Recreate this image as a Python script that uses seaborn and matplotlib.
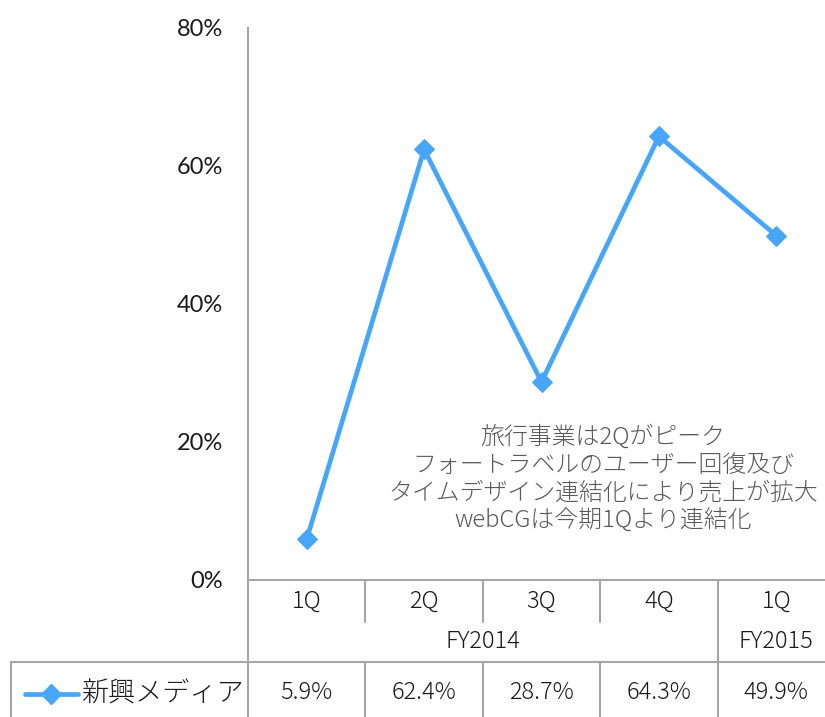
from matplotlib import pyplot as plt
from matplotlib.transforms import blended_transform_factory
import seaborn as sns
import pandas as pd

# Data
quarters = ['1Q', '2Q', '3Q', '4Q', '1Q']
fiscal_years = ['FY2014', 'FY2014', 'FY2014', 'FY2014', 'FY2015']
share = [5.9, 62.4, 28.7, 64.3, 49.9]
series_name = '新興メディア'
note = ('旅行事業は2Qがピーク\nフォートラベルのユーザー回復及び\n'
        'タイムデザイン連結化により売上が拡大\nwebCGは今期1Qより連結化')

df = pd.DataFrame({'pos': range(len(share)), 'share': share})

sns.set_style('white')
plt.rcParams['font.family'] = ['Noto Sans CJK JP', 'DejaVu Sans']

line_color = '#47A6F9'
grid_color = '#A6A6A6'

fig = plt.figure(figsize=(8.25, 7.17), dpi=100)
# axes box in pixels: left 248, bottom 580, width 587, height 552
ax = fig.add_axes([248 / 825, (717 - 580) / 717, 587 / 825, 552 / 717])

sns.lineplot(data=df, x='pos', y='share', ax=ax, color=line_color, linewidth=3.4,
             marker='D', markersize=10, markeredgecolor=line_color, clip_on=False)

ax.set_xlim(-0.5, len(share) - 0.5)
ax.set_ylim(0, 80)
ax.set_yticks(range(0, 81, 20))
ax.set_yticklabels([f'{v}%' for v in range(0, 81, 20)], fontsize=17,
                   family=['Lato', 'DejaVu Sans'], fontweight='normal', color='#1a1a1a')
ax.tick_params(axis='y', length=0, pad=18)
ax.set_xticks([])
ax.set_xlabel('')
ax.set_ylabel('')
for s in ['top', 'right']:
    ax.spines[s].set_visible(False)
ax.spines['left'].set_color(grid_color)
ax.spines['bottom'].set_color(grid_color)
ax.spines['left'].set_linewidth(1.5)
ax.spines['bottom'].set_linewidth(1.5)

# Table below the plot
tr = blended_transform_factory(ax.transData, ax.transAxes)
row_q = -42 / 552
row_fy = -82 / 552
row_end = -140 / 552
n = len(share)
tbl_font = dict(fontsize=17, fontweight='light', color='#1a1a1a')

def vline(x, y0, y1):
    ax.plot([x, x], [y0, y1], color=grid_color, lw=1.5, transform=tr, clip_on=False)

vline(-0.5, 0, row_end)
for i in range(n - 1):
    b = i + 0.5
    if fiscal_years[i] != fiscal_years[i + 1]:
        vline(b, 0, row_end)
    else:
        vline(b, 0, row_q)
        vline(b, row_fy, row_end)

legend_left = -0.5 - (248 - 11) / 117.4
vline(legend_left, row_fy, row_end)
ax.plot([legend_left, n], [row_fy, row_fy], color=grid_color, lw=1.5,
        transform=tr, clip_on=False)

for i, q in enumerate(quarters):
    ax.text(i, row_q / 2, q, transform=tr, ha='center', va='center', **tbl_font)
    ax.text(i, (row_fy + row_end) / 2 - 0.003, f'{share[i]:.1f}%', transform=tr,
            ha='center', va='center', **tbl_font)

groups = []
for i, fy in enumerate(fiscal_years):
    if groups and groups[-1][0] == fy:
        groups[-1][1].append(i)
    else:
        groups.append((fy, [i]))
for fy, idx in groups:
    ax.text(sum(idx) / len(idx), (row_q + row_fy) / 2, fy, transform=tr,
            ha='center', va='center', **tbl_font)

# legend key in the data row
ly = (row_fy + row_end) / 2 - 0.005
k0 = -0.5 - (248 - 25) / 117.4
k1 = -0.5 - (248 - 78) / 117.4
ax.plot([k0, k1], [ly, ly], color=line_color, lw=3.4, transform=tr, clip_on=False)
ax.plot([(k0 + k1) / 2], [ly], color=line_color, marker='D', markersize=10,
        transform=tr, clip_on=False)
ax.text(k1 + 0.03, ly, series_name, transform=tr, ha='left', va='center',
        fontsize=19.5, fontweight='light', color='#1a1a1a')

# note (display coords, origin bottom-left)
ax.text(603, 717 - 479, note, transform=None, ha='center', va='center', fontsize=17.2,
        color='#595959', linespacing=1.15, fontweight='light')

fig.savefig('out.png', dpi=100)
